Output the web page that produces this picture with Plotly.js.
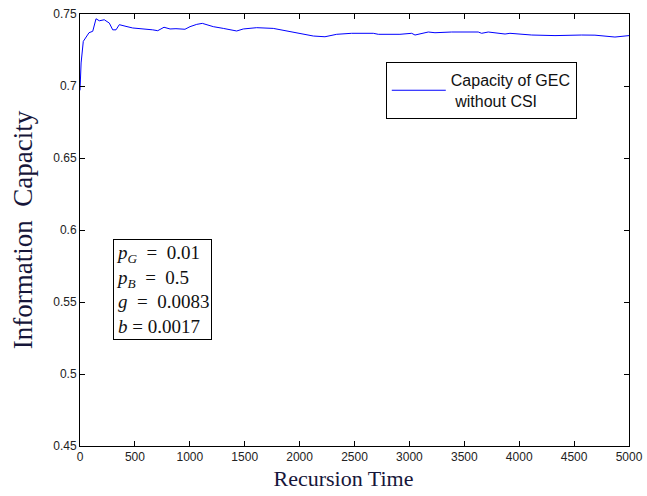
<!DOCTYPE html>
<html>
<head>
<meta charset="utf-8">
<script src="https://cdn.plot.ly/plotly-3.0.1.min.js"></script>
<style>html,body{margin:0;padding:0;background:#fff;}#chart{width:647px;height:496px;}</style>
</head>
<body>
<div id="chart"></div>
<script>
var recursionTime = [0, 5, 10, 30, 60, 82, 116, 146, 176, 221, 267, 298, 328, 358, 419, 480, 662, 708, 765, 820, 874, 956, 1002, 1063, 1114, 1214, 1305, 1427, 1487, 1609, 1760, 1882, 2034, 2125, 2231, 2338, 2474, 2671, 2717, 2914, 3021, 3051, 3172, 3233, 3385, 3627, 3658, 3718, 3871, 3916, 4114, 4326, 4569, 4690, 4872, 4963, 5000];
var capacity = [0.697, 0.703, 0.716, 0.731, 0.734, 0.737, 0.738, 0.7467, 0.7453, 0.746, 0.7437, 0.739, 0.739, 0.7426, 0.7414, 0.7403, 0.739, 0.7384, 0.7408, 0.7396, 0.7398, 0.7394, 0.7412, 0.7428, 0.7435, 0.7412, 0.7400, 0.7382, 0.7396, 0.7405, 0.7400, 0.7384, 0.7361, 0.7347, 0.7342, 0.7359, 0.7366, 0.7366, 0.7359, 0.7359, 0.7366, 0.7354, 0.7375, 0.737, 0.7375, 0.7375, 0.7366, 0.7375, 0.7361, 0.7366, 0.7354, 0.735, 0.7354, 0.7353, 0.734, 0.735, 0.735];
var seriesName = 'Capacity of GEC<br> without CSI';
var xTicks = [0, 500, 1000, 1500, 2000, 2500, 3000, 3500, 4000, 4500, 5000];
var yTicks = [0.45, 0.5, 0.55, 0.6, 0.65, 0.7, 0.75];
var paramText = '<i>p<sub>G</sub></i>&nbsp; = &nbsp;0.01<br><i>p<sub>B</sub></i>&nbsp; = &nbsp;0.5<br><i>g</i>&nbsp; = &nbsp;0.0083<br><i>b</i> = 0.0017';

var trace = {
  x: recursionTime, y: capacity, type: 'scatter', mode: 'lines', name: seriesName,
  line: {color: '#0000ff', width: 1}
};
var tickFont = {family: 'Liberation Sans, Arial, sans-serif', size: 12, color: '#222'};
var titleColor = '#16163a';
var layout = {
  width: 647, height: 496,
  margin: {l: 80, r: 18, t: 14, b: 50},
  paper_bgcolor: '#fff', plot_bgcolor: '#fff',
  showlegend: true,
  xaxis: {
    range: [0, 5000], tickvals: xTicks, ticks: 'inside', ticklen: 5, tickcolor: '#000',
    showline: true, linecolor: '#000', linewidth: 1, mirror: 'ticks', showgrid: false, zeroline: false,
    tickfont: tickFont,
    title: {text: 'Recursion Time&nbsp;&nbsp;&nbsp;&nbsp;', font: {family: 'Liberation Serif, Times New Roman, serif', size: 22, color: titleColor}, standoff: 7}
  },
  yaxis: {
    range: [0.45, 0.75], tickvals: yTicks, ticks: 'inside', ticklen: 5, tickcolor: '#000',
    showline: true, linecolor: '#000', linewidth: 1, mirror: 'ticks', showgrid: false, zeroline: false,
    tickfont: tickFont,
    title: {text: 'Information&nbsp;&nbsp;Capacity', font: {family: 'Liberation Serif, Times New Roman, serif', size: 27, color: titleColor}, standoff: 12}
  },
  legend: {
    x: 0.557, y: 0.889, xanchor: 'left', yanchor: 'top',
    bordercolor: '#000', borderwidth: 1, bgcolor: '#fff', itemwidth: 54,
    tracegroupgap: 0,
    font: {family: 'Liberation Sans, Arial, sans-serif', size: 16, color: '#111'}
  },
  annotations: [{
    xref: 'paper', yref: 'paper', x: 0.06, y: 0.479, xanchor: 'left', yanchor: 'top',
    text: paramText, showarrow: false, align: 'left',
    bordercolor: '#000', borderwidth: 1, borderpad: 2, bgcolor: '#fff',
    font: {family: 'Liberation Serif, Times New Roman, serif', size: 19, color: '#111'}
  }]
};
Plotly.newPlot('chart', [trace], layout, {displayModeBar: false, staticPlot: true});
</script>
</body>
</html>
